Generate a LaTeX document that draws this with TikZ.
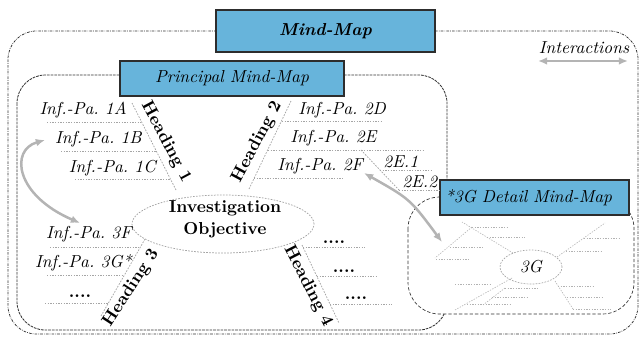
\documentclass[tikz,border=0pt]{standalone}
\usetikzlibrary{arrows.meta,shapes.geometric}
\definecolor{boxblue}{RGB}{103,180,219}
\definecolor{boxedge}{RGB}{45,45,45}
\definecolor{frameline}{RGB}{50,50,50}
\definecolor{branchgray}{RGB}{165,165,165}
\definecolor{arrowgray}{RGB}{180,180,180}
\newcommand{\mmfont}{\fontsize{10.4}{13}\selectfont}
\tikzset{
  every node/.style={font=\mmfont},
  header/.style={draw=boxedge, line width=0.9pt, fill=boxblue, inner sep=0pt},
  outerframe/.style={draw=frameline, line width=0.45pt, dash pattern=on 1.6pt off 0.7pt on 0.4pt off 0.7pt, rounded corners=17pt},
  innerframe/.style={draw=frameline, line width=0.5pt, dash pattern=on 1.6pt off 0.6pt, rounded corners=17pt},
  detailframe/.style={draw=frameline, line width=0.4pt, dash pattern=on 2pt off 1.2pt, rounded corners=19pt, fill=white},
  branch/.style={draw=branchgray, line width=0.45pt, dash pattern=on 1pt off 0.8pt},
  leaf/.style={draw=branchgray, line width=0.45pt, dash pattern=on 0.8pt off 0.8pt},
  mini/.style={draw=branchgray!85, line width=0.35pt, dash pattern=on 0.8pt off 0.8pt},
  headtext/.style={font=\mmfont\bfseries, inner sep=0pt},
  inftext/.style={font=\mmfont\itshape, inner sep=0pt},
  dottext/.style={font=\mmfont\bfseries, inner sep=0pt, anchor=base},
  interact/.style={draw=arrowgray, line width=1.5pt, {Latex[length=5.5pt,width=4.6pt]}-{Latex[length=5.5pt,width=4.6pt]}},
}
\begin{document}
\begin{tikzpicture}[x=0.6pt, y=-0.6pt]
\useasboundingbox (0,0) rectangle (639,337);

% frames: whole map, principal map, detail map
\draw[outerframe] (8,31) rectangle (638,334);
\draw[innerframe] (17,75) rectangle (447,330);
\draw[detailframe] (408,197) rectangle (634,314);

% title boxes
\node[header, minimum width=131.4pt, minimum height=25.2pt, font=\mmfont\bfseries\itshape] (mm) at (325.5,31) {Mind-Map};
\node[header, minimum width=134.4pt, minimum height=21pt, font=\mmfont\itshape] (pmm) at (232,78.5) {Principal Mind-Map};
\node[header, text width=107.4pt, inner xsep=3pt, minimum height=21pt, align=left, font=\mmfont\itshape] (dmm) at (534.5,197.5) {*3G Detail Mind-Map};

% central objective
\node[ellipse, draw=branchgray, line width=0.45pt, dash pattern=on 1pt off 0.8pt, minimum width=109.2pt, minimum height=34.8pt, inner sep=0pt] (obj) at (223,224) {};
\node[font=\mmfont\bfseries, align=center, inner sep=0pt] (objtext) at (225,219) {Investigation\\Objective};

% heading branches
\coordinate (h1in) at (176,190); \coordinate (h1out) at (132,103);
\coordinate (h2in) at (249,189); \coordinate (h2out) at (291,101);
\coordinate (h3in) at (145,239); \coordinate (h3out) at (101,316);
\coordinate (h4in) at (302,245); \coordinate (h4out) at (339,323);
\coordinate (s2in) at (361,150); \coordinate (s2out) at (399,190);
\draw[branch] (h1in) -- (h1out);
\draw[branch] (h2in) -- (h2out);
\draw[branch] (h3in) -- (h3out);
\draw[branch] (h4in) -- (h4out);
\draw[branch] (s2in) -- (s2out);

\node[headtext, rotate=-62] (hd1) at (166,142) {Heading 1};
\node[headtext, rotate=62] (hd2) at (257,142) {Heading 2};
\node[headtext, rotate=57] (hd3) at (131,288) {Heading 3};
\node[headtext, rotate=-63] (hd4) at (308,286) {Heading 4};

% information paths
\draw[leaf] (47,122) -- (141,122);
\draw[leaf] (61,151) -- (156,151);
\draw[leaf] (75,179) -- (170,179);
\draw[leaf] (282,121) -- (382,121);
\draw[leaf] (268,150) -- (423,150);
\draw[leaf] (254,178) -- (343,178);
\draw[leaf] (380,170) -- (431,170);
\draw[leaf] (399,190) -- (440,190);
\draw[leaf] (50,247) -- (140,247);
\draw[leaf] (47,275) -- (124,275);
\draw[leaf] (45,303) -- (108,303);
\draw[leaf] (303,247) -- (365,247);
\draw[leaf] (317,276) -- (378,276);
\draw[leaf] (330,304) -- (392,304);

\node[inftext, anchor=base east] (p1a) at (127,114) {Inf.-Pa.\ 1A};
\node[inftext, anchor=base east] (p1b) at (142,143) {Inf.-Pa.\ 1B};
\node[inftext, anchor=base east] (p1c) at (156,172) {Inf.-Pa.\ 1C};
\node[inftext, anchor=base west] (p2d) at (298,114) {Inf.-Pa.\ 2D};
\node[inftext, anchor=base west] (p2e) at (290,142) {Inf.-Pa.\ 2E};
\node[inftext, anchor=base west] (p2f) at (277,170) {Inf.-Pa.\ 2F};
\node[inftext, anchor=base west] (p2e1) at (383,167) {2E.1};
\node[inftext, anchor=base west] (p2e2) at (402,187) {2E.2};
\node[inftext, anchor=base east] (p3f) at (132,238) {Inf.-Pa.\ 3F};
\node[inftext, anchor=base east] (p3g) at (132,267) {Inf.-Pa.\ 3G*};
\node[dottext] (p3x) at (80,297) {....};
\node[dottext] (p4a) at (334,243) {....};
\node[dottext] (p4b) at (344,272) {....};
\node[dottext] (p4c) at (356,299) {....};

% detail mind-map of 3G
\node[ellipse, draw=branchgray, line width=0.4pt, dash pattern=on 1pt off 0.8pt, minimum width=37.2pt, minimum height=20.4pt, inner sep=0pt, font=\mmfont\itshape] (g3) at (531,267) {3G};
\draw[mini] (513,253) -- (462,222);
\draw[mini] (472,227) -- (508,227);
\draw[mini] (487,237) -- (525,237);
\draw[mini] (472,227) -- (435,258);
\draw[mini] (450,247) -- (483,247);
\draw[mini] (436,259) -- (470,259);
\draw[mini] (557,257) -- (605,223);
\draw[mini] (566,251) -- (602,251);
\draw[mini] (584,238) -- (620,238);
\draw[mini] (512,278) -- (455,310);
\draw[mini] (455,284) -- (490,284);
\draw[mini] (505,288) -- (483,305);
\draw[mini] (505,288) -- (538,288);
\draw[mini] (492,297) -- (528,297);
\draw[mini] (467,304) -- (512,304);
\draw[mini] (555,281) -- (573,309);
\draw[mini] (558,286) -- (593,286);
\draw[mini] (567,297) -- (603,297);
\draw[mini] (573,309) -- (611,309);

% interactions
\coordinate (ia1) at (45,140); \coordinate (ia2) at (80,223);
\draw[interact] (ia1) .. controls (10,150) and (15,195) .. (ia2);
\coordinate (ib1) at (364,173); \coordinate (ib2) at (442,242);
\draw[interact] (ib1) .. controls (410,199) .. (ib2);
\coordinate (lg1) at (538,61); \coordinate (lg2) at (628,61);
\draw[interact] (lg1) -- (lg2);
\node[inftext, anchor=base] (lgtext) at (584,53) {Interactions};
\end{tikzpicture}
\end{document}
